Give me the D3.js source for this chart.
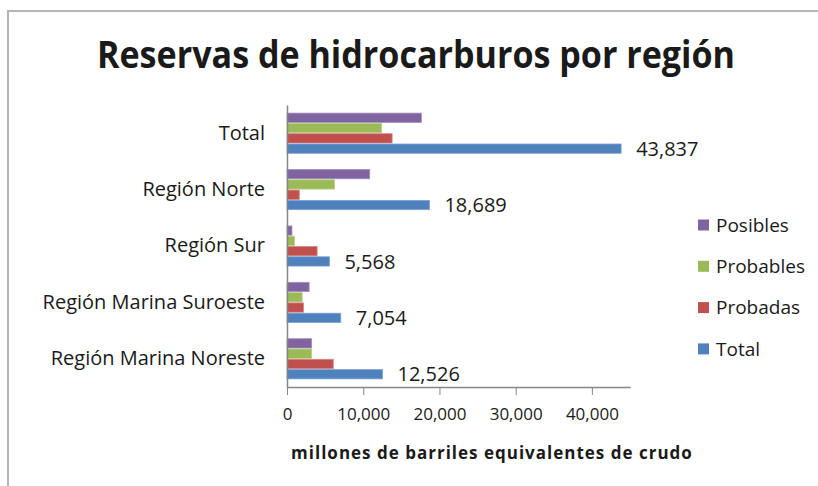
<!DOCTYPE html>
<html>
<head>
<meta charset="utf-8">
<script src="https://cdn.jsdelivr.net/npm/d3@7"></script>
<style>
  body { margin: 0; background: #fff; }
  text { font-family: 'Open Sans', 'Liberation Sans', sans-serif; fill: #1a1a1a; }
</style>
</head>
<body>
<div id="chart"></div>
<script>
// categories top to bottom
const regions = ['Total', 'Región Norte', 'Región Sur', 'Región Marina Suroeste', 'Región Marina Noreste']
// series, top bar of each group first
const seriesNames = ['Posibles', 'Probables', 'Probadas', 'Total']
const posibles = [17630, 10850, 648, 2904, 3228]
const probables = [12418, 6230, 970, 1990, 3228]
const probadas = [13789, 1609, 3950, 2160, 6070]
const totales = [43837, 18689, 5568, 7054, 12526]
const xTicks = [0, 10000, 20000, 30000, 40000]

const colors = ['#8064A2', '#9BBB59', '#C0504D', '#4F81BD']
const strokes = ['#a48fc0', '#b7d084', '#d58583', '#7fa3d3']

const W = 818
const H = 486

const svg = d3
  .select('#chart')
  .append('svg')
  .attr('width', W)
  .attr('height', H)

// chart frame (only top and left edges are visible)
svg.append('path')
  .attr('d', 'M8,' + H + 'V11H' + W)
  .attr('fill', 'none')
  .attr('stroke', '#b4b4b4')
  .attr('stroke-width', 2)

svg.append('text')
  .attr('x', 416)
  .attr('y', 68)
  .attr('text-anchor', 'middle')
  .attr('font-size', 38)
  .attr('font-weight', 'bold')
  .attr('textLength', 638)
  .attr('lengthAdjust', 'spacingAndGlyphs')
  .text('Reservas de hidrocarburos por región')

const x = d3.scaleLinear().domain([0, 45000]).range([287, 630])

const y0 = d3.scaleBand()
  .domain(regions)
  .range([105, 387])
  .paddingInner(0.27)
  .paddingOuter(0.135)

const y1 = d3.scaleBand()
  .domain(seriesNames)
  .range([0, y0.bandwidth()])

const rows = regions.map((r, i) => ({
  region: r,
  values: [posibles[i], probables[i], probadas[i], totales[i]]
}))

const groups = svg.selectAll('.grp')
  .data(rows)
  .enter()
  .append('g')
  .attr('class', 'grp')
  .attr('transform', d => 'translate(0,' + y0(d.region) + ')')

groups.selectAll('rect')
  .data(d => d.values.map((v, j) => ({ name: seriesNames[j], value: v, j: j })))
  .enter()
  .append('rect')
  .attr('x', x(0))
  .attr('y', d => y1(d.name) + 0.5)
  .attr('width', d => x(d.value) - x(0))
  .attr('height', y1.bandwidth() - 1)
  .attr('fill', d => colors[d.j])
  .attr('stroke', d => strokes[d.j])
  .attr('stroke-width', 0.8)

// data labels on the Total series
groups.append('text')
  .attr('x', d => x(d.values[3]) + 15)
  .attr('y', y1('Total') + y1.bandwidth() / 2)
  .attr('dy', '0.36em')
  .attr('font-size', 20)
  .text(d => d3.format(',')(d.values[3]))

// category axis
const yAxis = d3.axisLeft(y0).tickSize(0).tickPadding(22)
svg.append('g')
  .attr('class', 'y-axis')
  .attr('transform', 'translate(' + x(0) + ',0)')
  .call(yAxis)
svg.selectAll('.y-axis text').attr('font-size', 20).attr('font-family', null)
svg.select('.y-axis .domain').attr('stroke', '#868686').attr('stroke-width', 1.5)

// value axis
const xAxis = d3.axisBottom(x)
  .tickValues(xTicks)
  .tickFormat(d3.format(','))
  .tickSize(8)
  .tickSizeOuter(0)
  .tickPadding(13)
svg.append('g')
  .attr('class', 'x-axis')
  .attr('transform', 'translate(0,387)')
  .call(xAxis)
svg.selectAll('.x-axis text').attr('font-size', 17).attr('font-family', null)
svg.selectAll('.x-axis line').attr('stroke', '#868686')
svg.select('.x-axis .domain').attr('stroke', '#868686').attr('stroke-width', 1.5)

svg.append('text')
  .attr('x', 492)
  .attr('y', 459)
  .attr('text-anchor', 'middle')
  .attr('font-size', 17)
  .attr('font-weight', 'bold')
  .attr('letter-spacing', 1)
  .text('millones de barriles equivalentes de crudo')

// legend
const legend = svg.selectAll('.legend')
  .data(seriesNames)
  .enter()
  .append('g')
  .attr('class', 'legend')
  .attr('transform', (d, i) => 'translate(698,' + (225 + i * 41.3) + ')')

legend.append('rect')
  .attr('x', 0)
  .attr('y', -5.5)
  .attr('width', 11)
  .attr('height', 11)
  .attr('fill', (d, i) => colors[i])

legend.append('text')
  .attr('x', 18)
  .attr('dy', '0.36em')
  .attr('font-size', 19)
  .text(d => d)
</script>
</body>
</html>
